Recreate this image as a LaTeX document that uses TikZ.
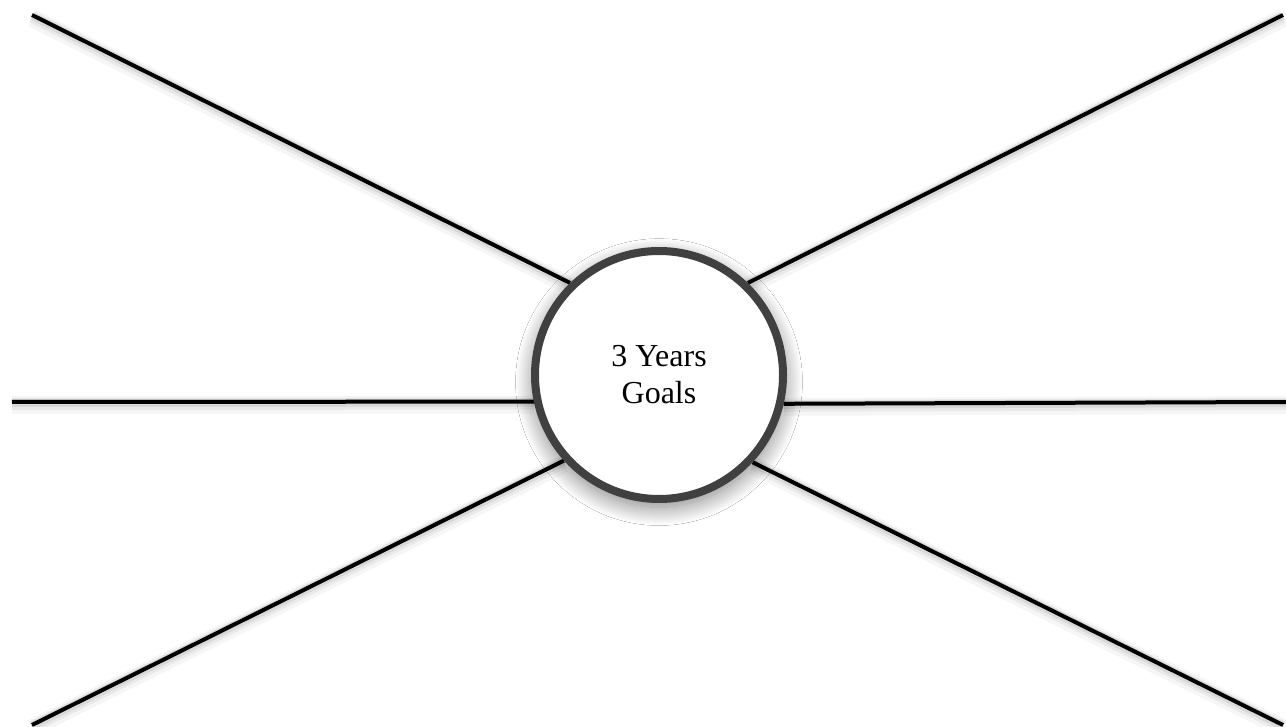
\documentclass[tikz,border=0pt]{standalone}
\usepackage{fontspec}
\setmainfont{Liberation Serif}
\usetikzlibrary{shadows.blur,backgrounds}
\definecolor{ringgray}{HTML}{404040}
\tikzset{
  spoke/.style={draw=black, line width=4pt,
    preaction={draw=black, opacity=0.035, line width=18pt, transform canvas={yshift=-3pt}},
    preaction={draw=black, opacity=0.05, line width=12pt, transform canvas={yshift=-2pt}},
    preaction={draw=black, opacity=0.07, line width=8pt, transform canvas={yshift=-1pt}}},
  hub/.style={circle, draw=ringgray, line width=8pt, fill=white, minimum size=248pt,
    inner sep=0pt, align=center, font=\rmfamily\fontsize{32}{37}\selectfont,
    blur shadow={shadow xshift=0pt, shadow yshift=-7pt, shadow blur radius=18pt,
      shadow blur steps=24, shadow opacity=50, shadow scale=1.01}}
}
\begin{document}
\begin{tikzpicture}[x=1pt,y=-1pt]
\useasboundingbox (0,0) rectangle (1286,727);
\coordinate (tl) at (32,15);
\coordinate (tr) at (1283,15);
\coordinate (ml) at (12,402);
\coordinate (mr) at (1286,402);
\coordinate (bl) at (32,725);
\coordinate (br) at (1283,725);
\node[hub] (c) at (659,375) {3 Years\\Goals};
\begin{scope}[on background layer]
\fill[white] (0,0) rectangle (1286,727);
\draw[spoke] (tl) -- (c.134.4);
\draw[spoke] (tr) -- (c.46.2);
\draw[spoke] (ml) -- (c.192.2);
\draw[spoke] (mr) -- (c.347.8);
\draw[spoke] (bl) -- (c.222.2);
\draw[spoke] (br) -- (c.317.5);
\end{scope}
\end{tikzpicture}
\end{document}
